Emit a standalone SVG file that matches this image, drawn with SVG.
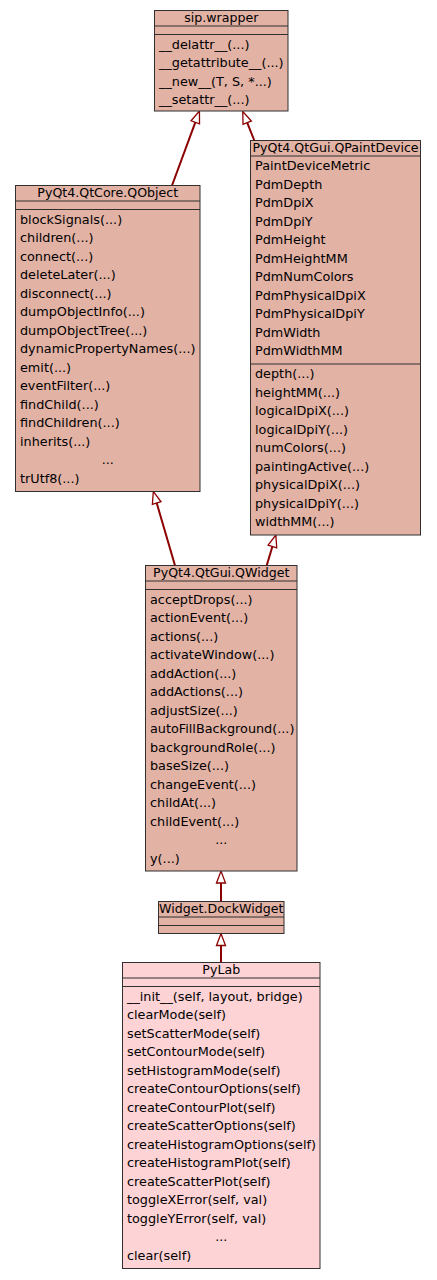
<svg xmlns="http://www.w3.org/2000/svg" width="437" height="1280" viewBox="0 0 437 1280">
<style>
.box{fill:#e2b2a5;stroke:#303030;stroke-width:1}
.me{fill:#fdd3d5}
.sep{stroke:#303030;stroke-width:1}
text{font-family:"DejaVu Sans",sans-serif;font-size:12.8px;fill:#000}
.c{text-anchor:middle;font-size:12.6px}
.edge{stroke:#8b0000;stroke-width:2;fill:none}
</style>
<defs>
<marker id="inh" markerUnits="userSpaceOnUse" markerWidth="16" markerHeight="12" refX="1" refY="5.5" orient="auto" overflow="visible">
<path d="M1,1 L13,5.5 L1,10 Z" fill="#fff" stroke="#8b0000" stroke-width="1.3"/>
</marker>
</defs>
<rect width="437" height="1280" fill="#fff"/>
<g id="edges">
<path class="edge" d="M172,185.5 L195.3,122.3" marker-end="url(#inh)"/>
<path class="edge" d="M254.3,140.5 L247.2,122.6" marker-end="url(#inh)"/>
<path class="edge" d="M175,565.5 L156.7,503" marker-end="url(#inh)"/>
<path class="edge" d="M266.7,565.5 L272.4,546.5" marker-end="url(#inh)"/>
<path class="edge" d="M221,901.5 L221,883" marker-end="url(#inh)"/>
<path class="edge" d="M221,962.5 L221,945.5" marker-end="url(#inh)"/>
</g>
<g id="sip_wrapper">
<rect class="box" x="154.5" y="10.5" width="133.5" height="100.5"/>
<line class="sep" x1="154.5" y1="26" x2="288" y2="26"/>
<line class="sep" x1="154.5" y1="34.5" x2="288" y2="34.5"/>
<text class="c" x="221.25" y="21.5">sip.wrapper</text>
<text x="159" y="48.5">__delattr__(...)</text>
<text x="159" y="67">__getattribute__(...)</text>
<text x="159" y="85.5">__new__(T, S, *...)</text>
<text x="159" y="104">__setattr__(...)</text>
</g>
<g id="QObject">
<rect class="box" x="15.5" y="185.5" width="184.5" height="306"/>
<line class="sep" x1="15.5" y1="201" x2="200" y2="201"/>
<line class="sep" x1="15.5" y1="209.5" x2="200" y2="209.5"/>
<text class="c" x="107.75" y="196.5">PyQt4.QtCore.QObject</text>
<text x="20" y="223.5">blockSignals(...)</text>
<text x="20" y="242">children(...)</text>
<text x="20" y="260.5">connect(...)</text>
<text x="20" y="279">deleteLater(...)</text>
<text x="20" y="297.5">disconnect(...)</text>
<text x="20" y="316">dumpObjectInfo(...)</text>
<text x="20" y="334.5">dumpObjectTree(...)</text>
<text x="20" y="353">dynamicPropertyNames(...)</text>
<text x="20" y="371.5">emit(...)</text>
<text x="20" y="390">eventFilter(...)</text>
<text x="20" y="408.5">findChild(...)</text>
<text x="20" y="427">findChildren(...)</text>
<text x="20" y="445.5">inherits(...)</text>
<text class="c" x="107.75" y="464">...</text>
<text x="20" y="482.5">trUtf8(...)</text>
</g>
<g id="QPaintDevice">
<rect class="box" x="250.5" y="140.5" width="170" height="394.5"/>
<line class="sep" x1="250.5" y1="156" x2="420.5" y2="156"/>
<line class="sep" x1="250.5" y1="364" x2="420.5" y2="364"/>
<text class="c" x="335.5" y="151.5">PyQt4.QtGui.QPaintDevice</text>
<text x="255" y="170">PaintDeviceMetric</text>
<text x="255" y="188.5">PdmDepth</text>
<text x="255" y="207">PdmDpiX</text>
<text x="255" y="225.5">PdmDpiY</text>
<text x="255" y="244">PdmHeight</text>
<text x="255" y="262.5">PdmHeightMM</text>
<text x="255" y="281">PdmNumColors</text>
<text x="255" y="299.5">PdmPhysicalDpiX</text>
<text x="255" y="318">PdmPhysicalDpiY</text>
<text x="255" y="336.5">PdmWidth</text>
<text x="255" y="355">PdmWidthMM</text>
<text x="255" y="378">depth(...)</text>
<text x="255" y="396.5">heightMM(...)</text>
<text x="255" y="415">logicalDpiX(...)</text>
<text x="255" y="433.5">logicalDpiY(...)</text>
<text x="255" y="452">numColors(...)</text>
<text x="255" y="470.5">paintingActive(...)</text>
<text x="255" y="489">physicalDpiX(...)</text>
<text x="255" y="507.5">physicalDpiY(...)</text>
<text x="255" y="526">widthMM(...)</text>
</g>
<g id="QWidget">
<rect class="box" x="145.5" y="565.5" width="151.5" height="305.5"/>
<line class="sep" x1="145.5" y1="581" x2="297" y2="581"/>
<line class="sep" x1="145.5" y1="589.5" x2="297" y2="589.5"/>
<text class="c" x="221.25" y="576.5">PyQt4.QtGui.QWidget</text>
<text x="150" y="603.5">acceptDrops(...)</text>
<text x="150" y="622">actionEvent(...)</text>
<text x="150" y="640.5">actions(...)</text>
<text x="150" y="659">activateWindow(...)</text>
<text x="150" y="677.5">addAction(...)</text>
<text x="150" y="696">addActions(...)</text>
<text x="150" y="714.5">adjustSize(...)</text>
<text x="150" y="733">autoFillBackground(...)</text>
<text x="150" y="751.5">backgroundRole(...)</text>
<text x="150" y="770">baseSize(...)</text>
<text x="150" y="788.5">changeEvent(...)</text>
<text x="150" y="807">childAt(...)</text>
<text x="150" y="825.5">childEvent(...)</text>
<text class="c" x="221.25" y="844">...</text>
<text x="150" y="862.5">y(...)</text>
</g>
<g id="DockWidget">
<rect class="box" x="158.5" y="901.5" width="125.5" height="32"/>
<line class="sep" x1="158.5" y1="917" x2="284" y2="917"/>
<line class="sep" x1="158.5" y1="925.5" x2="284" y2="925.5"/>
<text class="c" x="221.25" y="912.5">Widget.DockWidget</text>
</g>
<g id="PyLab">
<rect class="box me" x="122.5" y="962.5" width="197.5" height="306"/>
<line class="sep" x1="122.5" y1="978" x2="320" y2="978"/>
<line class="sep" x1="122.5" y1="986.5" x2="320" y2="986.5"/>
<text class="c" x="221.25" y="973.5">PyLab</text>
<text x="127" y="1000.5">__init__(self, layout, bridge)</text>
<text x="127" y="1019">clearMode(self)</text>
<text x="127" y="1037.5">setScatterMode(self)</text>
<text x="127" y="1056">setContourMode(self)</text>
<text x="127" y="1074.5">setHistogramMode(self)</text>
<text x="127" y="1093">createContourOptions(self)</text>
<text x="127" y="1111.5">createContourPlot(self)</text>
<text x="127" y="1130">createScatterOptions(self)</text>
<text x="127" y="1148.5">createHistogramOptions(self)</text>
<text x="127" y="1167">createHistogramPlot(self)</text>
<text x="127" y="1185.5">createScatterPlot(self)</text>
<text x="127" y="1204">toggleXError(self, val)</text>
<text x="127" y="1222.5">toggleYError(self, val)</text>
<text class="c" x="221.25" y="1241">...</text>
<text x="127" y="1259.5">clear(self)</text>
</g>
</svg>
